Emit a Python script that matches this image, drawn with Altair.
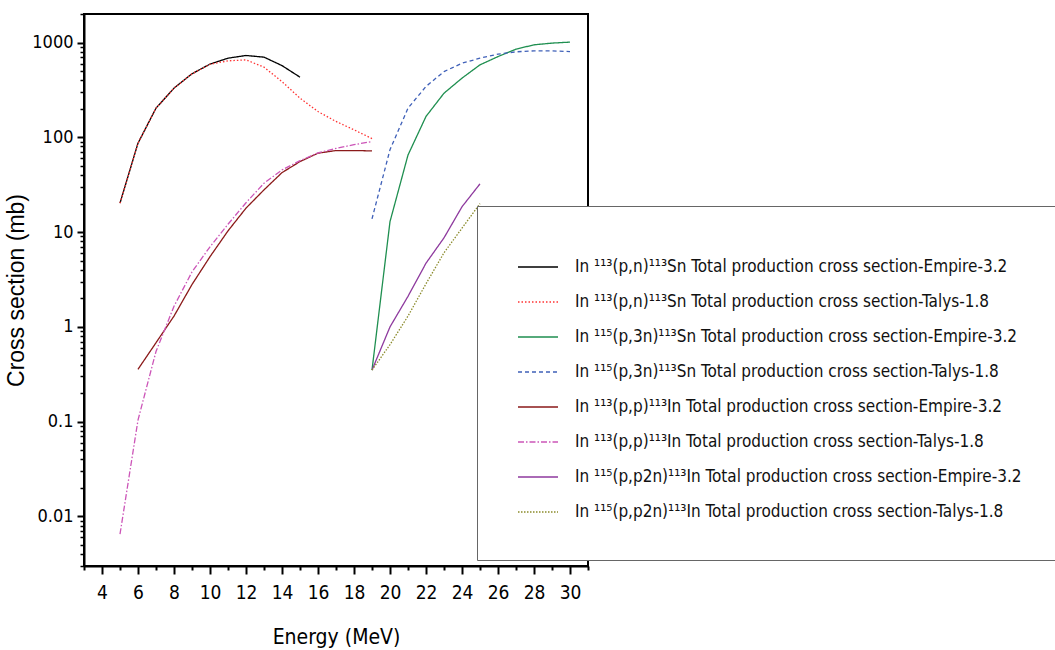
import altair as alt
import pandas as pd

# ---- data ----
series_names = [
    "In ¹¹³(p,n)¹¹³Sn Total production cross section-Empire-3.2",
    "In ¹¹³(p,n)¹¹³Sn Total production cross section-Talys-1.8",
    "In ¹¹⁵(p,3n)¹¹³Sn Total production cross section-Empire-3.2",
    "In ¹¹⁵(p,3n)¹¹³Sn Total production cross section-Talys-1.8",
    "In ¹¹³(p,p)¹¹³In Total production cross section-Empire-3.2",
    "In ¹¹³(p,p)¹¹³In Total production cross section-Talys-1.8",
    "In ¹¹⁵(p,p2n)¹¹³In Total production cross section-Empire-3.2",
    "In ¹¹⁵(p,p2n)¹¹³In Total production cross section-Talys-1.8",
]

e_pn_emp = [5, 6, 7, 8, 9, 10, 11, 12, 13, 14, 15]
xs_pn_emp = [20.2, 86.7, 203, 330, 468, 592, 684, 730, 701, 571, 431]

e_pn_tal = [5, 6, 7, 8, 9, 10, 11, 12, 13, 14, 15, 16, 17, 18, 19]
xs_pn_tal = [20.2, 86.7, 203, 330, 468, 590, 641, 656, 550, 387, 259, 187, 147, 120, 97]

e_p3n_emp = [19, 20, 21, 22, 23, 24, 25, 26, 27, 28, 29, 30]
xs_p3n_emp = [0.35, 12.9, 65, 166, 292, 421, 582, 711, 851, 946, 986, 1010]

e_p3n_tal = [19, 20, 21, 22, 23, 24, 25, 26, 27, 28, 29, 30]
xs_p3n_tal = [13.8, 74, 203, 344, 494, 605, 684, 753, 798, 817, 817, 803]

e_pp_emp = [6, 7, 8, 9, 10, 11, 12, 13, 14, 15, 16, 17, 18, 19]
xs_pp_emp = [0.357, 0.68, 1.3, 2.8, 5.5, 10.3, 17.9, 27.9, 42.4, 55.5, 68, 72.5, 72.5, 71.9]

e_pp_tal = [5, 6, 7, 8, 9, 10, 11, 12, 13, 14, 15, 16, 17, 18, 19]
xs_pp_tal = [0.0065, 0.104, 0.55, 1.65, 3.8, 7.0, 12.1, 20.4, 32.8, 45.3, 56.7, 68.5, 76.4, 83.6, 90.2]

e_pp2n_emp = [19, 20, 21, 22, 23, 24, 25]
xs_pp2n_emp = [0.35, 1.0, 2.1, 4.7, 8.7, 18.5, 32.3]

e_pp2n_tal = [19, 20, 21, 22, 23, 24, 25]
xs_pp2n_tal = [0.35, 0.65, 1.3, 2.85, 6.05, 11.0, 20.0]

series_colors = ["#000000", "#ff3333", "#1f8f50", "#3f60b8",
                 "#8b1a1a", "#cc55b8", "#8e3a9e", "#8a8a2a"]
series_dashes = [[1, 0], [1.5, 2], [1, 0], [4, 3],
                 [1, 0], [6, 2, 1.5, 2], [1, 0], [1.5, 1.5]]

x_major = [4, 6, 8, 10, 12, 14, 16, 18, 20, 22, 24, 26, 28, 30]
x_minor = [3, 5, 7, 9, 11, 13, 15, 17, 19, 21, 23, 25, 27, 29, 31]
y_major = [0.01, 0.1, 1, 10, 100, 1000]
y_minor = [k * d for d in [0.001, 0.01, 0.1, 1, 10, 100, 1000] for k in range(2, 10)
           if 0.003 <= k * d <= 2000]

all_e = [e_pn_emp, e_pn_tal, e_p3n_emp, e_p3n_tal, e_pp_emp, e_pp_tal, e_pp2n_emp, e_pp2n_tal]
all_v = [xs_pn_emp, xs_pn_tal, xs_p3n_emp, xs_p3n_tal, xs_pp_emp, xs_pp_tal, xs_pp2n_emp, xs_pp2n_tal]

rows = []
for name, es, vs in zip(series_names, all_e, all_v):
    for e, v in zip(es, vs):
        rows.append({"series": name, "E": e, "xs": v})
df = pd.DataFrame(rows)

NARROW = "'Liberation Sans Narrow', 'Arial Narrow', 'DejaVu Sans Condensed', 'Liberation Sans', sans-serif"
REG = "'Liberation Sans', Arial, sans-serif"

xscale = alt.Scale(domain=[3, 31], nice=False, zero=False)
yscale = alt.Scale(type="log", domain=[0.003, 2000], nice=False)

legend = alt.Legend(
    title=None, orient="none", legendX=393, legendY=192,
    padding=40, fillColor="white", strokeColor="#666666",
    symbolType="stroke", symbolSize=1600, symbolStrokeWidth=1.5,
    labelFont=NARROW, labelFontSize=17, labelColor="#111111", labelLimit=600,
    labelOffset=16, rowPadding=6,
)

lines = alt.Chart(df).mark_line(strokeWidth=1.3).encode(
    x=alt.X("E:Q", scale=xscale,
            axis=alt.Axis(values=x_major, title="Energy (MeV)", tickSize=8, tickWidth=2,
                          labelFont=NARROW, labelFontSize=19, labelPadding=9,
                          titleFont=NARROW, titleFontSize=21, titleFontWeight="normal",
                          titlePadding=24, grid=False, domainWidth=2)),
    y=alt.Y("xs:Q", scale=yscale,
            axis=alt.Axis(values=y_major, title="Cross section (mb)", tickSize=7, tickWidth=2,
                          labelExpr="datum.value >= 1 ? format(datum.value, 'd') : format(datum.value, '.2~f')",
                          labelFont=NARROW, labelFontSize=18, labelPadding=4,
                          titleFont=REG, titleFontSize=23, titleFontWeight="normal",
                          titlePadding=3, grid=False, domainWidth=2)),
    color=alt.Color("series:N", scale=alt.Scale(domain=series_names, range=series_colors), legend=legend),
    strokeDash=alt.StrokeDash("series:N", scale=alt.Scale(domain=series_names, range=series_dashes), legend=legend),
)

minor = alt.Chart(df).mark_line(opacity=0).encode(
    x=alt.X("E:Q", scale=xscale,
            axis=alt.Axis(values=x_minor, orient="bottom", labels=False, domain=False,
                          tickSize=4, tickWidth=2, title=None, grid=False)),
    y=alt.Y("xs:Q", scale=yscale,
            axis=alt.Axis(values=y_minor, orient="left", labels=False, domain=False,
                          tickSize=4, tickWidth=1.5, title=None, grid=False)),
)

chart = alt.layer(lines, minor).resolve_axis(x="independent", y="independent").properties(
    width=504, height=552,
    padding={"left": 84, "top": 14, "right": 467, "bottom": 84},
    autosize=alt.AutoSizeParams(type="none"),
    background="white",
).configure_view(stroke="black", strokeWidth=2).configure_axis(
    domainColor="black", tickColor="black", labelColor="black", titleColor="black"
)

chart.save("out.html", embed_options={"renderer": "svg", "actions": False})
